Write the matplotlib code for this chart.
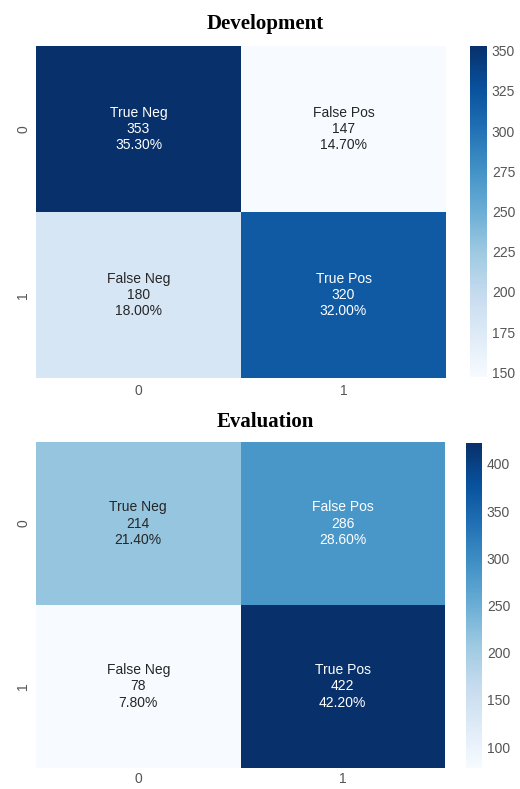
import numpy as np
import matplotlib
matplotlib.use("Agg")
import matplotlib.pyplot as plt
import seaborn as sns

sns.set_style("white")
plt.rcParams['font.family'] = ['Liberation Sans', 'DejaVu Sans']

names = ["True Neg", "False Pos", "False Neg", "True Pos"]
dev_counts = [353, 147, 180, 320]
eval_counts = [214, 286, 78, 422]
tick_labels = ["0", "1"]
titles = ["Development", "Evaluation"]

fig = plt.figure(figsize=(5.2, 7.89), dpi=100)

ax_specs = [
    ([36/520, 1-378/789, 410/520, 332/789], [470/520, 1-377/789, 17/520, 331/789], 24, 4),
    ([36/520, 1-768/789, 409/520, 326/789], [466/520, 1-768/789, 16/520, 325/789], 422, 3),
]

for counts, title, (axr, caxr, ty, pad) in zip([dev_counts, eval_counts], titles, ax_specs):
    ax = fig.add_axes(axr)
    cax = fig.add_axes(caxr)
    total = sum(counts)
    labels = [f"{n}\n{c}\n{c/total:.2%}" for n, c in zip(names, counts)]
    labels = np.asarray(labels).reshape(2, 2)
    data = np.asarray(counts).reshape(2, 2)
    sns.heatmap(data, annot=labels, fmt="", cmap="Blues", ax=ax, cbar_ax=cax,
                xticklabels=tick_labels, yticklabels=tick_labels,
                annot_kws={"fontsize": 10})
    ax.tick_params(axis='both', length=0, labelsize=10, labelcolor="#555555", pad=pad)
    ax.tick_params(axis='y', pad=4)
    ax.set_yticklabels(tick_labels, rotation=90, va="center")
    cax.tick_params(length=0, labelsize=10, labelcolor="#555555")
    fig.text(265/520, 1-ty/789, title, ha="center", va="center", color="black",
             fontsize=15, fontweight="bold", family="Liberation Serif")

fig.savefig("out.png", dpi=100)
